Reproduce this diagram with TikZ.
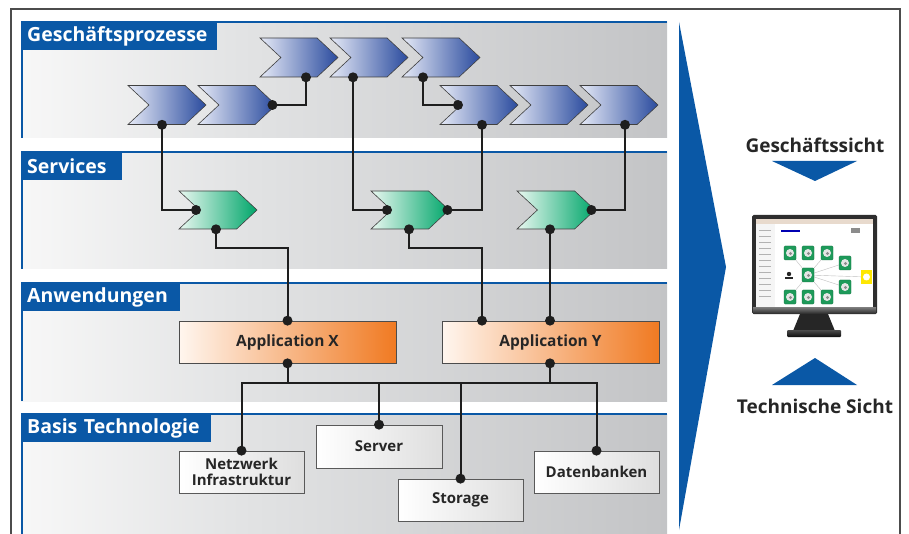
\documentclass[tikz,border=0pt]{standalone}
\usepackage{fontspec}
\setmainfont{Open Sans}
\usetikzlibrary{shapes.symbols,calc}
\definecolor{sapblue}{HTML}{0A58A6}
\definecolor{chevdark}{HTML}{2A4B9E}
\definecolor{chevmid}{HTML}{6F83C6}
\definecolor{chevlight}{HTML}{E6EAF7}
\definecolor{svcdark}{HTML}{00A66A}
\definecolor{svcmid}{HTML}{4DC193}
\definecolor{svclight}{HTML}{EAF8F1}
\definecolor{appdark}{HTML}{F07A22}
\definecolor{appmid}{HTML}{F9C6A2}
\definecolor{applight}{HTML}{FFF6EF}
\definecolor{wire}{HTML}{1E1E1E}
\definecolor{bandmid}{HTML}{E2E3E4}
\definecolor{bandend}{HTML}{C3C4C6}
\definecolor{tilegreen}{HTML}{1E9A5A}
\pgfdeclarehorizontalshading{band}{100bp}{color(0bp)=(white); color(25bp)=(white!97!black); color(42bp)=(bandmid); color(75bp)=(bandend); color(100bp)=(bandend)}
\tikzset{
  wire/.style={draw=wire, line width=2pt, line join=miter},
  dot/.style={circle, fill=wire, inner sep=0pt, minimum size=10pt},
  chev/.style={shape=signal, signal from=west, signal to=east, signal pointer angle=86,
    draw=black!75, line width=0.6pt, inner sep=0pt, minimum height=39pt, minimum width=78pt},
  procchev/.style={chev, left color=chevlight, middle color=chevmid, right color=chevdark},
  svcchev/.style={chev, left color=svclight, middle color=svcmid, right color=svcdark, minimum height=38pt},
  appbox/.style={draw=black!70, line width=0.7pt, left color=applight, middle color=appmid, right color=appdark,
    minimum width=217pt, minimum height=42pt, inner sep=0pt,
    font=\bfseries\fontsize{15.5}{17}\selectfont, text=black!85},
  techbox/.style={draw=black!65, line width=0.7pt, left color=white, right color=black!13,
    minimum width=125pt, minimum height=42pt, inner sep=0pt, align=center,
    font=\bfseries\fontsize{15}{16.5}\selectfont, text=black!85},
  bandlabel/.style={fill=sapblue, text=white, anchor=north west, minimum height=28pt,
    inner xsep=6pt, inner ysep=0pt, align=left, font=\bfseries\fontsize{19.5}{21}\selectfont},
  blueline/.style={draw=sapblue, line width=1.6pt},
  bandbg/.style={shading=band},
  viewtext/.style={font=\bfseries\fontsize{19}{21}\selectfont, text=black!85},
  tile/.style={fill=tilegreen, draw=tilegreen!70!black, line width=0.3pt, rounded corners=1pt},
}
\begin{document}
\begin{tikzpicture}[x=1pt,y=-1pt]
\useasboundingbox (0,0) rectangle (909,534);

% outer frame
\draw[black!70, line width=1.2pt] (11,534) -- (11,9) -- (900,9) -- (900,534);

% layer bands
\foreach \ya/\yb in {22/138, 152/269, 283/401, 414/534}{
  \path[bandbg] (21,\ya) rectangle (667,\yb);
  \draw[blueline] (667,\ya) -- (22,\ya) -- (22,\yb);
}
\node[bandlabel, text width=184pt] (lbl1) at (21,22) {Geschäftsprozesse};
\node[bandlabel, text width=89pt] (lbl2) at (21,152) {Services};
\node[bandlabel, text width=147pt] (lbl3) at (21,283) {Anwendungen};
\node[bandlabel, text width=178pt] (lbl4) at (21,414) {Basis Technologie};

% business process chain
\node[procchev] (p1) at (167,105) {};
\node[procchev] (p2) at (237,105) {};
\node[procchev] (p3) at (299,57.5) {};
\node[procchev] (p4) at (369,57.5) {};
\node[procchev] (p5) at (441,57.5) {};
\node[procchev] (p6) at (479,105) {};
\node[procchev] (p7) at (549,105) {};
\node[procchev] (p8) at (619,105) {};

% services
\node[svcchev] (s1) at (218,210) {};
\node[svcchev] (s2) at (410,210) {};
\node[svcchev] (s3) at (556,210) {};

% applications
\node[appbox] (ax) at (287.5,342) {Application X};
\node[appbox] (ay) at (550.5,342) {Application Y};

% technology
\node[techbox] (net) at (241.5,472) {Netzwerk\\Infrastruktur};
\node[techbox, minimum width=126pt, minimum height=43pt] (srv) at (379,446.5) {Server};
\node[techbox] (sto) at (460.5,500) {Storage};
\node[techbox] (dat) at (596.5,472) {Datenbanken};

% connection points
\coordinate (dp1) at ($(p1.south)+(-5,0)$);
\coordinate (dp2) at ($(p2.east)+(-4,0)$);
\coordinate (dp3) at ($(p3.south)+(7,0)$);
\coordinate (dp4) at ($(p4.south)+(-16,0)$);
\coordinate (dp5) at ($(p5.south)+(-18,0)$);
\coordinate (dp6in) at ($(p6.center)+(-21,0)$);
\coordinate (dp6) at ($(p6.south)+(3,0)$);
\coordinate (dp8) at ($(p8.south)+(6,0)$);
\coordinate (ds1in) at ($(s1.center)+(-22,0)$);
\coordinate (ds1) at ($(s1.south)+(-2,0)$);
\coordinate (ds2in) at ($(s2.center)+(-23,0)$);
\coordinate (ds2out) at ($(s2.east)+(-2,0)$);
\coordinate (ds2) at ($(s2.south)+(-1,0)$);
\coordinate (ds3out) at ($(s3.east)+(-4,0)$);
\coordinate (ds3) at ($(s3.south)+(-6,0)$);
\coordinate (dax) at (ax.north);
\coordinate (daxb) at (ax.south);
\coordinate (day1) at ($(ay.north)+(-68.5,0)$);
\coordinate (day2) at (ds3 |- ay.north);
\coordinate (dayb) at (day2 |- ay.south);
\coordinate (dnet) at (net.north);
\coordinate (dsrv) at (srv.north);
\coordinate (dsto) at (sto.north);
\coordinate (ddat) at (dat.north);
\coordinate (bus) at (0,383);

% wiring
\draw[wire] (dp1) |- (ds1in);
\draw[wire] (dp2) -| (dp3);
\draw[wire] (dp4) |- (ds2in);
\draw[wire] (dp5) |- (dp6in);
\draw[wire] (dp6) |- (ds2out);
\draw[wire] (dp8) |- (ds3out);
\draw[wire] (ds1) -- ++(0,19) -| (dax);
\draw[wire] (ds2) -- ++(0,19) -| (day1);
\draw[wire] (ds3) -- (day2);
\draw[wire] (dnet) -- (dnet |- bus) -- (ddat |- bus) -- (ddat);
\draw[wire] (daxb) -- (daxb |- bus);
\draw[wire] (dayb) -- (dayb |- bus);
\draw[wire] (dsrv) -- (dsrv |- bus);
\draw[wire] (dsto) -- (dsto |- bus);

\foreach \c in {dp1,dp2,dp3,dp4,dp5,dp6in,dp6,dp8,ds1in,ds1,ds2in,ds2out,ds2,ds3out,ds3,
  dax,daxb,day1,day2,dayb,dnet,dsrv,dsto,ddat}
  \node[dot] at (\c) {};

% view arrow
\fill[sapblue] (679,22) -- (726,267) -- (679,530) -- cycle;
\node[viewtext] (gs) at (815,145) {Geschäftssicht};
\fill[sapblue] (772,161) -- (857,161) -- (815,181) -- cycle;
\fill[sapblue] (772,385) -- (857,385) -- (815,358) -- cycle;
\node[viewtext] (ts) at (815,406) {Technische Sicht};

% monitor
\fill[black!82, rounded corners=1.5pt] (752,215) rectangle (877,314);
\shade[top color=black!50, bottom color=black!80] (753,307) rectangle (876,313);
\fill[white] (756,219) rectangle (873,307);
\fill[black!15!brown!25] (756,219) rectangle (873,224);
\fill[black!4] (756,224) rectangle (775,307);
\foreach \yy in {230,236,...,300}
  \draw[black!30, line width=0.4pt] (759,\yy) -- (771,\yy);
\fill[blue!70!black] (781,230) rectangle (800,232.5);
\fill[black!45] (851,228) rectangle (860,233);
\fill[black!85] (800,314) -- (828,314) -- (835,331) -- (793,331) -- cycle;
\shade[top color=black!70, bottom color=black!95, rounded corners=1pt] (787,330) rectangle (841,337);
\foreach \tx/\ty in {845/263, 845/287, 866/277, 790/253, 827/253, 790/297, 827/297}
  \draw[black!25, line width=0.4pt] (808,275) -- (\tx,\ty);
\foreach \tx/\ty in {790/253, 808/253, 827/253, 808/275, 790/297, 808/297, 827/297, 845/263, 845/287}{
  \fill[tile] (\tx-6,\ty-7) rectangle (\tx+6,\ty+7);
  \fill[black!10] (\tx,\ty) circle (4pt);
  \fill[black!45] (\tx+0.5,\ty+0.5) circle (1.7pt);
}
\fill[yellow!90!orange] (861,270) rectangle (872,284);
\fill[white] (866.5,277) circle (3.5pt);
\fill[black!85] (789,274) circle (2.2pt);
\fill[black!85] (785,277) rectangle (793,279);
\end{tikzpicture}
\end{document}
